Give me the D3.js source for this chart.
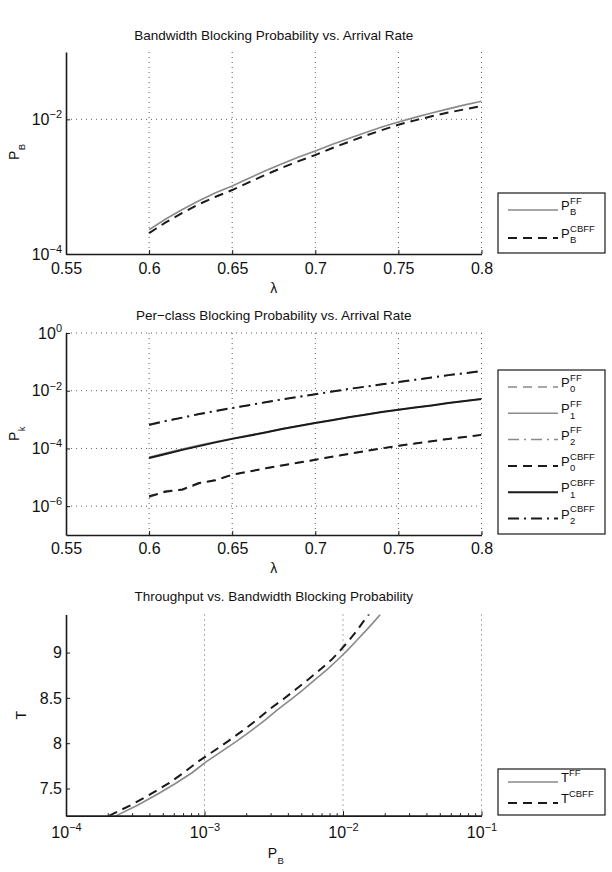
<!DOCTYPE html>
<html>
<head>
<meta charset="utf-8">
<script src="https://cdn.jsdelivr.net/npm/d3@7"></script>
<style>
  body { margin: 0; background: #fff; }
  svg { display: block; font-family: 'Liberation Sans', Arial, Helvetica, sans-serif; }
</style>
</head>
<body>
<div id="chart"></div>
<script>
// arrival rate
const lambda = [0.60, 0.61, 0.62, 0.63, 0.64, 0.65, 0.66, 0.67, 0.68, 0.69, 0.70,
                0.71, 0.72, 0.73, 0.74, 0.75, 0.76, 0.77, 0.78, 0.79, 0.80]

// bandwidth blocking probability
const pbFF   = [2.29e-4, 3.31e-4, 4.57e-4, 6.17e-4, 8.13e-4, 1.02e-3, 1.33e-3, 1.72e-3, 2.19e-3, 2.75e-3, 3.39e-3,
                4.22e-3, 5.19e-3, 6.31e-3, 7.67e-3, 9.12e-3, 1.07e-2, 1.24e-2, 1.43e-2, 1.64e-2, 1.86e-2]
const pbCBFF = [2.04e-4, 2.95e-4, 4.07e-4, 5.50e-4, 7.08e-4, 8.91e-4, 1.16e-3, 1.50e-3, 1.91e-3, 2.40e-3, 2.95e-3,
                3.72e-3, 4.62e-3, 5.69e-3, 6.92e-3, 8.32e-3, 9.66e-3, 1.11e-2, 1.26e-2, 1.41e-2, 1.58e-2]

// per-class blocking probability
const p0FF   = [2.0e-6, 3.4e-6, 3.6e-6, 6.0e-6, 8.3e-6, 1.2e-5, 1.6e-5, 2.0e-5, 2.6e-5, 3.2e-5, 4.0e-5,
                5.1e-5, 6.4e-5, 8.2e-5, 1.01e-4, 1.22e-4, 1.47e-4, 1.79e-4, 2.13e-4, 2.5e-4, 2.9e-4]
const p1FF   = [5.0e-5, 6.9e-5, 9.6e-5, 1.28e-4, 1.70e-4, 2.22e-4, 2.85e-4, 3.65e-4, 4.80e-4, 6.15e-4, 7.70e-4,
                9.65e-4, 1.21e-3, 1.49e-3, 1.83e-3, 2.20e-3, 2.64e-3, 3.10e-3, 3.73e-3, 4.38e-3, 5.14e-3]
const p2FF   = [6.4e-4, 8.7e-4, 1.15e-3, 1.52e-3, 1.97e-3, 2.48e-3, 3.12e-3, 3.95e-3, 4.95e-3, 6.10e-3, 7.50e-3,
                9.20e-3, 1.13e-2, 1.36e-2, 1.64e-2, 1.97e-2, 2.37e-2, 2.85e-2, 3.42e-2, 4.02e-2, 4.72e-2]
const p0CBFF = [2.19e-6, 3.16e-6, 3.80e-6, 6.31e-6, 7.94e-6, 1.23e-5, 1.58e-5, 2.04e-5, 2.57e-5, 3.24e-5, 4.07e-5,
                5.13e-5, 6.46e-5, 8.13e-5, 1.0e-4, 1.23e-4, 1.48e-4, 1.78e-4, 2.14e-4, 2.51e-4, 2.95e-4]
const p1CBFF = [4.68e-5, 6.46e-5, 8.91e-5, 1.20e-4, 1.62e-4, 2.14e-4, 2.75e-4, 3.55e-4, 4.68e-4, 6.03e-4, 7.59e-4,
                9.55e-4, 1.20e-3, 1.48e-3, 1.82e-3, 2.19e-3, 2.63e-3, 3.09e-3, 3.72e-3, 4.37e-3, 5.13e-3]
const p2CBFF = [6.61e-4, 8.91e-4, 1.17e-3, 1.55e-3, 2.00e-3, 2.51e-3, 3.16e-3, 3.98e-3, 5.01e-3, 6.17e-3, 7.59e-3,
                9.33e-3, 1.15e-2, 1.38e-2, 1.66e-2, 2.00e-2, 2.40e-2, 2.88e-2, 3.47e-2, 4.07e-2, 4.79e-2]

// throughput
const tFF   = [7.198, 7.318, 7.437, 7.555, 7.674, 7.792, 7.910, 8.026, 8.142, 8.257, 8.372,
               8.484, 8.595, 8.705, 8.812, 8.918, 9.022, 9.125, 9.226, 9.325, 9.421]
const tCBFF = [7.199, 7.318, 7.437, 7.556, 7.675, 7.793, 7.911, 8.028, 8.144, 8.260, 8.375,
               8.488, 8.600, 8.710, 8.819, 8.925, 9.032, 9.137, 9.242, 9.346, 9.448]

// ticks
const lambdaTicks = [0.55, 0.6, 0.65, 0.7, 0.75, 0.8]
const pbTicks     = [1e-4, 1e-2]
const pkTicks     = [1e-6, 1e-4, 1e-2, 1]
const pbAxisTicks = [1e-4, 1e-3, 1e-2, 1e-1]
const tTicks      = [7.5, 8, 8.5, 9]

const GRAY = '#8a8a8a'
const INK  = '#1a1a1a'
const DASH = '9,6'
const DASHDOT = '11,5,2,5'

const svg = d3.select('#chart').append('svg').attr('width', 612).attr('height', 872)

const X0 = 66, X1 = 481.5

function logLabels(g, size) {
  g.selectAll('.tick text').each(function (d) {
    const e = Math.round(Math.log10(d))
    const t = d3.select(this).text(null)
    t.append('tspan').text('10')
    t.append('tspan').attr('dy', '-0.6em').attr('font-size', size + 'px')
      .text(e === 0 ? '0' : '\u2212' + Math.abs(e))
  })
}

function styleAxis(g) {
  g.select('.domain').attr('stroke', INK).attr('stroke-width', 1.6)
  g.selectAll('.tick line').attr('stroke', INK).attr('stroke-width', 1)
  g.selectAll('.tick text')
    .attr('fill', '#111')
    .attr('font-size', '16px')
    .attr('font-family', "'Liberation Sans', Arial, sans-serif")
}

function grid(x, y, xVals, yVals, top, bottom) {
  const g = svg.append('g')
  g.selectAll('.gx').data(xVals).join('line')
    .attr('x1', d => x(d)).attr('x2', d => x(d))
    .attr('y1', top).attr('y2', bottom)
  g.selectAll('.gy').data(yVals).join('line')
    .attr('class', 'gy')
    .attr('x1', X0).attr('x2', X1)
    .attr('y1', d => y(d)).attr('y2', d => y(d))
  g.selectAll('line')
    .attr('stroke', '#333').attr('stroke-width', 0.8).attr('stroke-dasharray', '1,4')
}

function series(clipId, x, y, xs, ys, color, width, dash) {
  const line = d3.line().x((d, i) => x(xs[i])).y(d => y(d))
  svg.append('path')
    .datum(ys)
    .attr('clip-path', `url(#${clipId})`)
    .attr('d', line)
    .attr('fill', 'none')
    .attr('stroke', color)
    .attr('stroke-width', width)
    .attr('stroke-dasharray', dash)
}

function clip(id, top, bottom) {
  svg.append('clipPath').attr('id', id).append('rect')
    .attr('x', X0).attr('y', top).attr('width', X1 - X0).attr('height', bottom - top)
}

function title(text, y) {
  svg.append('text').attr('x', (X0 + X1) / 2).attr('y', y)
    .attr('text-anchor', 'middle').attr('font-size', '13.5px').attr('fill', '#111').text(text)
}

// main letter with stacked super/subscript
function sym(x, y, main, sup, sub, size, small) {
  const g = svg.append('g').attr('fill', '#111')
  g.append('text').attr('x', x).attr('y', y).attr('font-size', size + 'px').text(main)
  const w = main === 'T' ? size * 0.61 : size * 0.7
  if (sup) g.append('text').attr('x', x + w).attr('y', y - size * 0.48).attr('font-size', small + 'px').text(sup)
  if (sub) g.append('text').attr('x', x + w).attr('y', y + size * 0.42).attr('font-size', small + 'px').text(sub)
  return g
}

function legend(top, bottom, rows) {
  svg.append('rect').attr('x', 498).attr('y', top).attr('width', 107).attr('height', bottom - top)
    .attr('fill', '#fff').attr('stroke', INK).attr('stroke-width', 1.2)
  rows.forEach(r => {
    svg.append('line').attr('x1', 508).attr('x2', 558).attr('y1', r.y).attr('y2', r.y)
      .attr('stroke', r.color).attr('stroke-width', r.width).attr('stroke-dasharray', r.dash)
    sym(561, r.y, r.main, r.sup, r.sub, 13, 9.5)
  })
}

// ---------- panel 1 ----------
{
  const top = 52, bottom = 254
  const x = d3.scaleLinear().domain([0.55, 0.8]).range([X0, X1])
  const y = d3.scaleLog().domain([1e-4, 1e-1]).range([bottom, top])
  title('Bandwidth Blocking Probability vs. Arrival Rate', 40)
  grid(x, y, lambdaTicks.slice(1), [1e-2], top, bottom)
  clip('c1', top, bottom)
  series('c1', x, y, lambda, pbFF, GRAY, 1.6, null)
  series('c1', x, y, lambda, pbCBFF, INK, 2, DASH)
  const gx = svg.append('g').attr('transform', `translate(0,${bottom})`)
    .call(d3.axisBottom(x).tickValues(lambdaTicks).tickSizeInner(-4).tickSizeOuter(0).tickPadding(9).tickFormat(d => String(d)))
  styleAxis(gx)
  const gy = svg.append('g').attr('transform', `translate(${X0},0)`)
    .call(d3.axisLeft(y).tickValues(pbTicks).tickSizeInner(-4).tickSizeOuter(0).tickPadding(4))
  styleAxis(gy)
  logLabels(gy, 11)
  svg.append('text').attr('x', (X0 + X1) / 2).attr('y', 293).attr('text-anchor', 'middle')
    .attr('font-size', '14px').attr('fill', '#111').text('λ')
  sym(0, 0, 'P', null, 'B', 14, 9.5).attr('transform', `translate(19,${(top + bottom) / 2 + 7}) rotate(-90)`)
  legend(193, 253, [
    { y: 210, color: GRAY, width: 1.6, dash: null, main: 'P', sup: 'FF', sub: 'B' },
    { y: 238, color: INK, width: 2, dash: DASH, main: 'P', sup: 'CBFF', sub: 'B' }
  ])
}

// ---------- panel 2 ----------
{
  const top = 333, bottom = 535
  const x = d3.scaleLinear().domain([0.55, 0.8]).range([X0, X1])
  const y = d3.scaleLog().domain([1e-7, 1]).range([bottom, top])
  title('Per\u2212class Blocking Probability vs. Arrival Rate', 320)
  grid(x, y, lambdaTicks.slice(1), pkTicks, top, bottom)
  clip('c2', top, bottom)
  series('c2', x, y, lambda, p0FF, GRAY, 1.5, DASH)
  series('c2', x, y, lambda, p1FF, GRAY, 1.5, null)
  series('c2', x, y, lambda, p2FF, GRAY, 1.5, DASHDOT)
  series('c2', x, y, lambda, p0CBFF, INK, 2, DASH)
  series('c2', x, y, lambda, p1CBFF, INK, 2, null)
  series('c2', x, y, lambda, p2CBFF, INK, 2, DASHDOT)
  const gx = svg.append('g').attr('transform', `translate(0,${bottom})`)
    .call(d3.axisBottom(x).tickValues(lambdaTicks).tickSizeInner(-4).tickSizeOuter(0).tickPadding(8).tickFormat(d => String(d)))
  styleAxis(gx)
  const gy = svg.append('g').attr('transform', `translate(${X0},0)`)
    .call(d3.axisLeft(y).tickValues(pkTicks).tickSizeInner(-4).tickSizeOuter(0).tickPadding(4))
  styleAxis(gy)
  logLabels(gy, 11)
  svg.append('text').attr('x', (X0 + X1) / 2).attr('y', 573).attr('text-anchor', 'middle')
    .attr('font-size', '14px').attr('fill', '#111').text('λ')
  sym(0, 0, 'P', null, 'k', 14, 9.5).attr('transform', `translate(19,${(top + bottom) / 2 + 7}) rotate(-90)`)
  legend(370, 534, [
    { y: 387,   color: GRAY, width: 1.5, dash: DASH,    main: 'P', sup: 'FF',   sub: '0' },
    { y: 413.3, color: GRAY, width: 1.5, dash: null,    main: 'P', sup: 'FF',   sub: '1' },
    { y: 439.6, color: GRAY, width: 1.5, dash: DASHDOT, main: 'P', sup: 'FF',   sub: '2' },
    { y: 465.9, color: INK,  width: 2,   dash: DASH,    main: 'P', sup: 'CBFF', sub: '0' },
    { y: 492.2, color: INK,  width: 2,   dash: null,    main: 'P', sup: 'CBFF', sub: '1' },
    { y: 518.5, color: INK,  width: 2,   dash: DASHDOT, main: 'P', sup: 'CBFF', sub: '2' }
  ])
}

// ---------- panel 3 ----------
{
  const top = 614.5, bottom = 815.7
  const x = d3.scaleLog().domain([1e-4, 1e-1]).range([X0, X1])
  const y = d3.scaleLinear().domain([7.2, 9.42]).range([bottom, top])
  title('Throughput vs. Bandwidth Blocking Probability', 601)
  grid(x, y, pbAxisTicks.slice(1), [], top, bottom)
  clip('c3', top, bottom)
  series('c3', x, y, pbFF, tFF, GRAY, 1.6, null)
  series('c3', x, y, pbCBFF, tCBFF, INK, 2, DASH)
  const minor = x.ticks().filter(d => !pbAxisTicks.some(p => Math.abs(p - d) / p < 1e-6))
  const gm = svg.append('g').attr('transform', `translate(0,${bottom})`)
    .call(d3.axisBottom(x).tickValues(minor).tickSizeInner(-2.5).tickSizeOuter(0).tickFormat(''))
  styleAxis(gm)
  const gx = svg.append('g').attr('transform', `translate(0,${bottom})`)
    .call(d3.axisBottom(x).tickValues(pbAxisTicks).tickSizeInner(-4.5).tickSizeOuter(0).tickPadding(11))
  styleAxis(gx)
  logLabels(gx, 11)
  const gy = svg.append('g').attr('transform', `translate(${X0},0)`)
    .call(d3.axisLeft(y).tickValues(tTicks).tickSizeInner(-4).tickSizeOuter(0).tickPadding(4).tickFormat(d => String(d)))
  styleAxis(gy)
  sym((X0 + X1) / 2 - 6, 858, 'P', null, 'B', 14, 9.5)
  svg.append('text').attr('transform', `translate(26,${(top + bottom) / 2}) rotate(-90)`)
    .attr('text-anchor', 'middle').attr('font-size', '14px').attr('fill', '#111').text('T')
  legend(769, 815, [
    { y: 782, color: GRAY, width: 1.6, dash: null, main: 'T', sup: 'FF', sub: null },
    { y: 803, color: INK, width: 2, dash: DASH, main: 'T', sup: 'CBFF', sub: null }
  ])
}
</script>
</body>
</html>
